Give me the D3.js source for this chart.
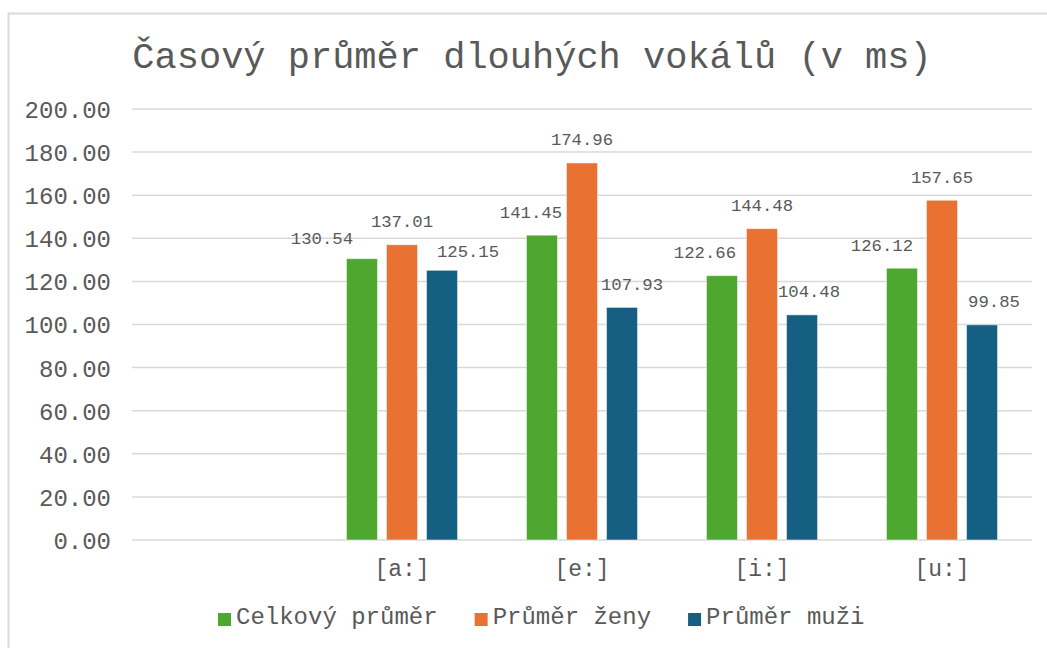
<!DOCTYPE html>
<html>
<head>
<meta charset="utf-8">
<script src="https://cdn.jsdelivr.net/npm/d3@7"></script>
<style>
  body { margin: 0; background: #fff; }
  text { font-family: "Courier New", "Nimbus Mono PS", "Nimbus Mono L", "FreeMono", "Liberation Mono", monospace; fill: #595959; }
</style>
</head>
<body>
<div class="chart"></div>
<script>
// data
var categories = ["", "[a:]", "[e:]", "[i:]", "[u:]"];
var seriesNames = ["Celkový průměr", "Průměr ženy", "Průměr muži"];
var celkovy = [null, 130.54, 141.45, 122.66, 126.12];
var zeny    = [null, 137.01, 174.96, 144.48, 157.65];
var muzi    = [null, 125.15, 107.93, 104.48, 99.85];
var yTicks  = [0, 20, 40, 60, 80, 100, 120, 140, 160, 180, 200];

// manual label nudges (px) as placed in the original
var labelNudgeX = [
    [0, -40, -11, -17, -20],
    [0, 0, 0, 0, 0],
    [0, 26, 10, 7, 12]
];
var labelNudgeY = [
    [0, 3, 0, 0, 0],
    [0, 0, 0, 0, 0],
    [0, 4, 0, 0, 0]
];

var colors = ["#4EA72E", "#E97132", "#156082"];
var seriesValues = [celkovy, zeny, muzi];
var fontStack = '"Courier New", "Nimbus Mono PS", "Nimbus Mono L", "FreeMono", "Liberation Mono", monospace';

var W = 1047, H = 648;
var svg = d3.select(".chart").append("svg")
    .attr("width", W)
    .attr("height", H);

// chart border
svg.append("rect")
    .attr("x", 8.5).attr("y", 13.5)
    .attr("width", W + 10).attr("height", H + 10)
    .attr("fill", "none")
    .attr("stroke", "#D9D9D9")
    .attr("stroke-width", 2);

// title
svg.append("text")
    .attr("x", 532)
    .attr("y", 68)
    .attr("text-anchor", "middle")
    .style("font-size", "37px")
    .text("Časový průměr dlouhých vokálů (v ms)");

var plotLeft = 132, plotRight = 1032, plotTop = 109, plotBottom = 540;

var x0 = d3.scaleBand()
    .domain(categories.map(function (d, i) { return i; }))
    .range([plotLeft, plotRight])
    .paddingInner(0.383)
    .paddingOuter(0.1915);

var x1 = d3.scaleBand()
    .domain(seriesNames)
    .range([0, x0.bandwidth()])
    .paddingInner(0.225)
    .paddingOuter(0);

var y = d3.scaleLinear().domain([0, 200]).range([plotBottom, plotTop]);

// gridlines
svg.append("g")
    .selectAll("line")
    .data(yTicks)
    .enter()
    .append("line")
    .attr("x1", plotLeft)
    .attr("x2", plotRight)
    .attr("y1", function (d) { return y(d); })
    .attr("y2", function (d) { return y(d); })
    .attr("stroke", "#D9D9D9")
    .attr("stroke-width", 1.5);

// y axis labels
var yAxis = svg.append("g")
    .attr("transform", "translate(" + (plotLeft - 12) + ",0)")
    .call(d3.axisLeft(y).tickValues(yTicks).tickFormat(d3.format(".2f")).tickSize(0).tickPadding(9));
yAxis.select(".domain").remove();
yAxis.selectAll("text")
    .style("font-size", "24px")
    .style("font-family", fontStack)
    .attr("fill", "#595959")
    .attr("dy", "0.35em");

// x axis labels
var xAxis = svg.append("g")
    .attr("transform", "translate(0," + plotBottom + ")")
    .call(d3.axisBottom(x0).tickFormat(function (i) { return categories[i]; }).tickSize(0).tickPadding(20));
xAxis.select(".domain").remove();
xAxis.selectAll("text")
    .style("font-size", "23px")
    .style("font-family", fontStack)
    .attr("fill", "#595959");

// bars
var rows = [];
seriesValues.forEach(function (vals, s) {
    vals.forEach(function (v, i) {
        if (v !== null) rows.push({ s: s, i: i, v: v });
    });
});

svg.append("g")
    .selectAll("rect")
    .data(rows)
    .enter()
    .append("rect")
    .attr("x", function (d) { return x0(d.i) + x1(seriesNames[d.s]); })
    .attr("y", function (d) { return y(d.v); })
    .attr("width", x1.bandwidth())
    .attr("height", function (d) { return y(0) - y(d.v); })
    .attr("fill", function (d) { return colors[d.s]; })
    .attr("stroke", "#fff")
    .attr("stroke-opacity", 0.5)
    .attr("stroke-width", 1);

// data labels
svg.append("g")
    .selectAll("text")
    .data(rows)
    .enter()
    .append("text")
    .attr("x", function (d) {
        return x0(d.i) + x1(seriesNames[d.s]) + x1.bandwidth() / 2 + labelNudgeX[d.s][d.i];
    })
    .attr("y", function (d) { return y(d.v) - 17.5 + labelNudgeY[d.s][d.i]; })
    .attr("text-anchor", "middle")
    .style("font-size", "17.3px")
    .text(function (d) { return d3.format(".2f")(d.v); });

// legend
var legend = svg.append("g");
var lx = 218;
seriesNames.forEach(function (name, s) {
    legend.append("rect")
        .attr("x", lx)
        .attr("y", 613)
        .attr("width", 13)
        .attr("height", 13)
        .attr("fill", colors[s]);
    var t = legend.append("text")
        .attr("x", lx + 18)
        .attr("y", 624)
        .style("font-size", "24px")
        .text(name);
    lx += 18 + t.node().getComputedTextLength() + 37;
});
</script>
</body>
</html>
